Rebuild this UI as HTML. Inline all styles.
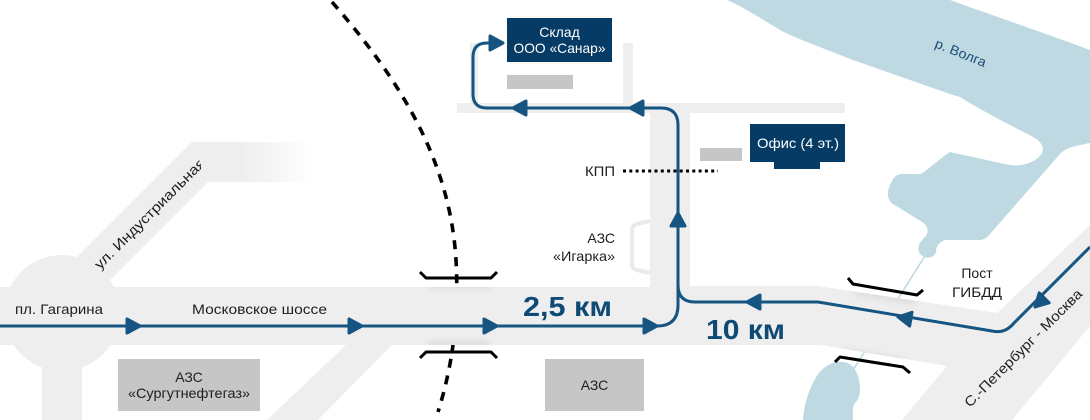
<!DOCTYPE html>
<html><head><meta charset="utf-8"><style>
html,body{margin:0;padding:0;background:#fff;}
svg{display:block;}
text{font-family:"Liberation Sans",Arial,sans-serif;}
</style></head><body>
<svg width="1090" height="420" viewBox="0 0 1090 420" xmlns="http://www.w3.org/2000/svg">
<defs>
<linearGradient id="fade" x1="0" x2="1" y1="0" y2="0">
<stop offset="0" stop-color="#eeeeee"/><stop offset="1" stop-color="#ffffff"/>
</linearGradient>
<filter id="blur" x="-50%" y="-100%" width="200%" height="300%">
<feGaussianBlur stdDeviation="4"/>
</filter>
<clipPath id="indClip"><polygon points="192,142 208,182 110,280 30,310 20,220"/></clipPath>
<clipPath id="roadClip">
<rect x="0" y="287" width="690" height="58"/>
<polygon points="680,286 818,286 997,313 1090,225 1090,326 1012,420 902,420 947,366 820,345 680,345"/>
</clipPath>
<path id="ar" d="M0,0 L-13,-7 L-13,7 Z" fill="#165482" stroke="#165482" stroke-width="3" stroke-linejoin="round"/>
</defs>

<rect width="1090" height="420" fill="#fff"/>

<!-- river -->
<path d="M727,0 L950,0 C1000,18 1050,35 1090,50 L1090,143 C1075,146 1065,148 1060,154 L990,234 C986,239 983,240 978,240 L945,240 C938,243 936,247 936,252 C934,258 926,260 920,254 C917,249 918,244 924,238 C930,232 928,226 922,222 L893,204 C887,200 886,192 891,183 C894,176 898,173 905,174 L920,174 C926,172 940,158 950,152 L1000,163 C1015,167 1025,166 1035,160 C1046,153 1045,145 1035,138 C1020,130 980,110 960,97 L950,94 L853,60 C820,47 795,38 780,30 C760,18 745,8 727,0 Z" fill="#bfd9e2"/>
<line x1="925" y1="256" x2="848" y2="378" stroke="#bfd9e2" stroke-width="1.6"/>
<path d="M803,420 C804,405 808,390 818,374 C826,364 835,361 843,362 C852,363 857,370 859,380 C861,390 860,398 855,403 C852,408 853,414 853,420 Z" fill="#bfd9e2"/>

<!-- dashed curve -->
<path d="M332,2 C400,80 450,160 456,260 C460,330 448,380 438,412" fill="none" stroke="#000" stroke-width="3.6" stroke-dasharray="9,8"/>

<!-- roads -->
<g fill="#eeeeee">
<polygon points="192,142 240,142 240,182 208,182 90,300 40,294"/>
<rect x="240" y="142" width="75" height="40" fill="url(#fade)"/>
<circle cx="62" cy="313" r="58"/>
<rect x="42" y="340" width="40" height="80"/>
<rect x="0" y="287" width="690" height="58"/>
<polygon points="347,344 393,344 318,420 267,420"/>
<rect x="650" y="103" width="40" height="190"/>
<rect x="457" y="103" width="388" height="10"/>
<rect x="470" y="43" width="8" height="62"/>
<rect x="623" y="43" width="10" height="62"/>
<polygon points="680,286 818,286 997,313 1090,225 1090,326 1012,420 902,420 947,366 820,345 680,345"/>
</g>
<path d="M650,221 L637,224 Q632,225 632,230 L632,264 Q632,269 637,270 L650,273" fill="none" stroke="#eaeaea" stroke-width="4"/>

<!-- bridge shadows -->
<g clip-path="url(#roadClip)" fill="#000" opacity="0.09" filter="url(#blur)">
<rect x="428" y="280" width="62" height="8"/>
<rect x="428" y="342" width="62" height="8"/>
<polygon points="855,287 915,297 915,304 855,294"/>
<polygon points="843,350 903,359 903,366 843,357"/>
</g>

<!-- bridge brackets -->
<g fill="none" stroke="#000" stroke-width="3" stroke-linejoin="round">
<path d="M420,272 L426,278 L491,278 L497,272"/>
<path d="M420,358 L426,352 L491,352 L497,358"/>
<path d="M848,278 L853,284 L917,295 L923,290"/>
<path d="M835,362 L840,357 L903,367 L910,373"/>
</g>

<!-- gray blocks -->
<g fill="#c6c6c6">
<rect x="507" y="75" width="66" height="14"/>
<rect x="700" y="148" width="42" height="13"/>
<rect x="118" y="359" width="142" height="52"/>
<rect x="545" y="359" width="99" height="52"/>
</g>

<!-- KPP dotted -->
<line x1="623" y1="171" x2="718" y2="171" stroke="#000" stroke-width="3" stroke-dasharray="3,3.3"/>

<!-- route -->
<g fill="none" stroke="#165482" stroke-width="3" stroke-linejoin="round">
<path d="M0,326 L657,326 Q678,326 678,305 L678,125 Q678,108 661,108 L487,108 Q473,108 473,94 L473,57 Q473,43 487,43 L495,43"/>
<path d="M678,270 L678,285 Q678,302 695,302 L818,302 L992,331 Q1005,334 1014,323 L1090,247"/>
</g>
<use href="#ar" transform="translate(140,326)"/>
<use href="#ar" transform="translate(362,326)"/>
<use href="#ar" transform="translate(497,326)"/>
<use href="#ar" transform="translate(657,326)"/>
<use href="#ar" transform="translate(678,213) rotate(-90)"/>
<use href="#ar" transform="translate(630,108) rotate(180)"/>
<use href="#ar" transform="translate(513,108) rotate(180)"/>
<use href="#ar" transform="translate(503,43)"/>
<use href="#ar" transform="translate(747,302) rotate(180)"/>
<use href="#ar" transform="translate(898,317) rotate(189.5)"/>
<use href="#ar" transform="translate(1035,307) rotate(135)"/>

<!-- navy boxes -->
<rect x="507" y="18" width="105" height="44" fill="#053b64"/>
<rect x="750" y="124" width="95" height="38" fill="#053b64"/>
<rect x="774" y="161" width="46" height="8" fill="#053b64"/>

<!-- texts -->
<g font-size="14" fill="#1e1e1e">
<text x="15" y="314" textLength="88" lengthAdjust="spacingAndGlyphs">пл. Гагарина</text>
<text x="192" y="314" textLength="135" lengthAdjust="spacingAndGlyphs">Московское шоссе</text>
<text x="189" y="382" text-anchor="middle">АЗС</text>
<text x="189" y="398" text-anchor="middle" textLength="122" lengthAdjust="spacingAndGlyphs">«Сургутнефтегаз»</text>
<text x="594.5" y="390" text-anchor="middle">АЗС</text>
<text x="615" y="243" text-anchor="end">АЗС</text>
<text x="615" y="261" text-anchor="end" textLength="62" lengthAdjust="spacingAndGlyphs">«Игарка»</text>
<text x="585" y="176" textLength="30" lengthAdjust="spacingAndGlyphs">КПП</text>
<text x="977" y="278" text-anchor="middle">Пост</text>
<text x="977" y="297" text-anchor="middle" textLength="50" lengthAdjust="spacingAndGlyphs">ГИБДД</text>
<g clip-path="url(#indClip)">
<text x="0" y="0" transform="translate(100,270) rotate(-45)" textLength="150" lengthAdjust="spacingAndGlyphs">ул. Индустриальная</text>
</g>
<text x="0" y="0" transform="translate(970,408) rotate(-45)" textLength="160" lengthAdjust="spacingAndGlyphs">С.-Петербург - Москва</text>
</g>
<text x="0" y="0" transform="translate(934,47) rotate(22)" font-size="13.5" fill="#1b4d78" textLength="54" lengthAdjust="spacingAndGlyphs">р. Волга</text>

<g fill="#ffffff" font-size="14">
<text x="559.5" y="37" text-anchor="middle">Склад</text>
<text x="559.5" y="53" text-anchor="middle" textLength="92" lengthAdjust="spacingAndGlyphs">ООО «Санар»</text>
<text x="798" y="148" text-anchor="middle" textLength="82" lengthAdjust="spacingAndGlyphs">Офис (4 эт.)</text>
</g>

<g font-weight="bold" font-size="28" fill="#0e4a76">
<text x="523" y="316" textLength="89" lengthAdjust="spacingAndGlyphs">2,5 км</text>
<text x="706" y="339" textLength="79" lengthAdjust="spacingAndGlyphs">10 км</text>
</g>
</svg>
</body></html>
